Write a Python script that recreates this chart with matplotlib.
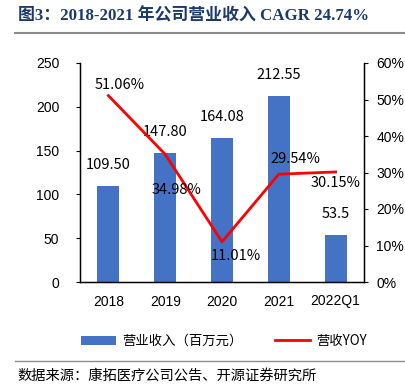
import matplotlib.pyplot as plt
import numpy as np

# data
years = ["2018", "2019", "2020", "2021", "2022Q1"]
revenue = [109.50, 147.80, 164.08, 212.55, 53.5]
revenue_labels = ["109.50", "147.80", "164.08", "212.55", "53.5"]
yoy = [51.06, 34.98, 11.01, 29.54, 30.15]
yoy_labels = ["51.06%", "34.98%", "11.01%", "29.54%", "30.15%"]

CJK = ["Liberation Sans", "Noto Sans CJK SC"]
plt.rcParams["font.family"] = CJK

W, H = 406, 390
fig = plt.figure(figsize=(W / 100, H / 100), dpi=100)

# axes box in pixels: left 80, right 364, top 63, bottom 282
ax = fig.add_axes([80 / W, 1 - 282 / H, (364 - 80) / W, (282 - 63) / H])
x = np.arange(len(years))
ax.bar(x, revenue, width=0.39, color="#4472C4", label="营业收入（百万元）")
ax.set_xlim(-0.5, 4.5)
ax.set_ylim(0, 250)
ax.set_yticks(range(0, 251, 50))
ax.set_xticks(x)
ax.set_xticklabels(years, fontsize=10)
ax.tick_params(axis="x", length=0, pad=9)
ax.tick_params(axis="y", labelsize=10, length=3, pad=12)
ax.spines["top"].set_visible(False)
for s in ["left", "right", "bottom"]:
    ax.spines[s].set_color("black")
    ax.spines[s].set_linewidth(1.0)

for xi, v, lab in zip(x, revenue, revenue_labels):
    ax.annotate(lab, (xi, v), xytext=(0, 10), textcoords="offset points",
                ha="center", va="bottom", fontsize=10.5,
                family=["Noto Sans CJK SC"])

ax2 = ax.twinx()
ax2.plot(x, yoy, color="#FF0000", lw=2, label="营收YOY")
ax2.set_ylim(0, 60)
ax2.set_yticks(range(0, 61, 10))
ax2.set_yticklabels([f"{t}%" for t in range(0, 61, 10)])
ax2.tick_params(axis="y", labelsize=10, length=3, pad=6)
ax2.spines["top"].set_visible(False)
for s in ["left", "right", "bottom"]:
    ax2.spines[s].set_color("black")

offsets = [(8, 8), (8, -26), (10, -10), (12, 11), (0, -8)]
for xi, v, lab, off in zip(x, yoy, yoy_labels, offsets):
    ax2.annotate(lab, (xi, v), xytext=off, textcoords="offset points",
                 ha="center", va="center", fontsize=10.5,
                 family=["Noto Sans CJK SC"])

# legend
h1, l1 = ax.get_legend_handles_labels()
h2, l2 = ax2.get_legend_handles_labels()
fig.legend(h1 + h2, l1 + l2, loc="center", bbox_to_anchor=(224 / W, 1 - 341 / H),
           ncol=2, frameon=False, handlelength=2.6,
           columnspacing=2.4, handletextpad=0.5,
           prop={"family": ["Noto Sans CJK SC"], "size": 9.6})

# title and rules
fig.text(18 / W, 1 - 16 / H, "图3：2018-2021 年公司营业收入 CAGR 24.74%",
         fontsize=12.2, fontweight="bold", color="#1B3A6B",
         family=["Liberation Serif", "Noto Sans CJK SC"], va="center", ha="left")
fig.add_artist(plt.Line2D([15 / W, 405 / W], [1 - 33 / H, 1 - 33 / H],
                          color="#8C8C8C", lw=1.5))
fig.add_artist(plt.Line2D([15 / W, 405 / W], [1 - 361 / H, 1 - 361 / H],
                          color="#8C8C8C", lw=1.0))
fig.text(17 / W, 1 - 376 / H, "数据来源：康拓医疗公司公告、开源证券研究所",
         fontsize=10.3, color="black", family=["Noto Sans CJK SC"],
         va="center", ha="left")

fig.savefig("out.png", dpi=100)
